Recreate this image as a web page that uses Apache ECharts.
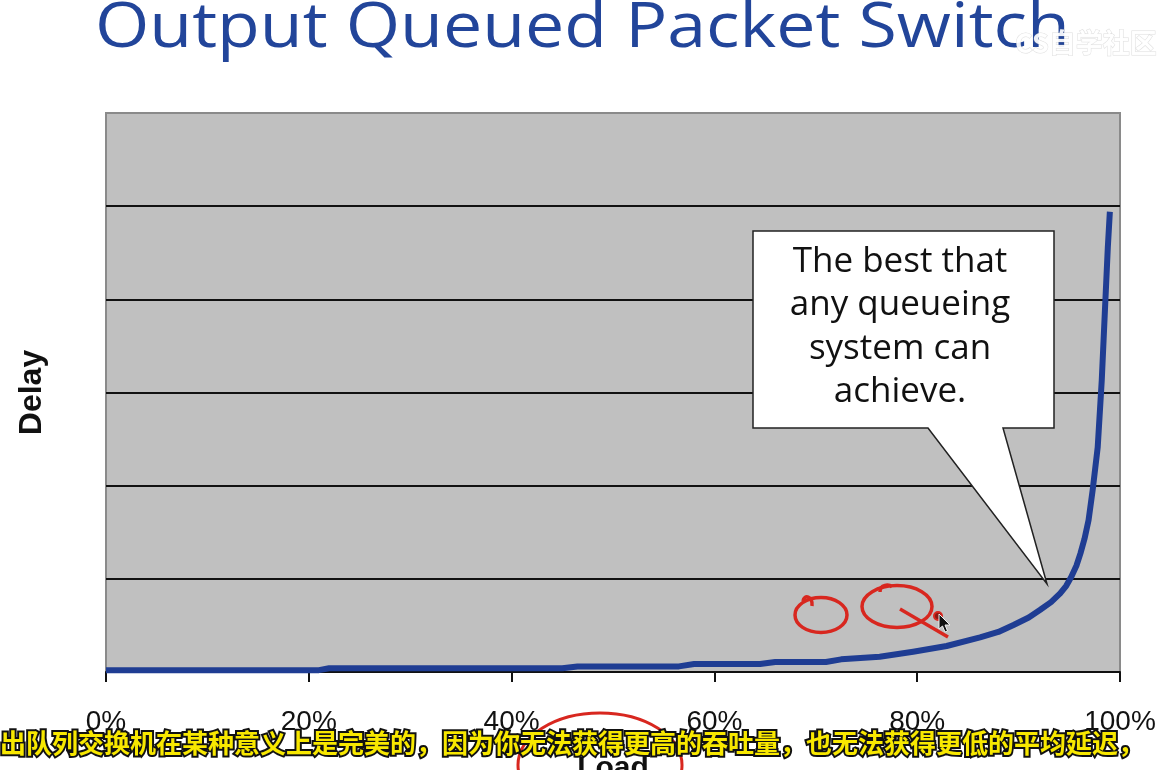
<!DOCTYPE html>
<html>
<head>
<meta charset="utf-8">
<script src="https://cdn.jsdelivr.net/npm/echarts/dist/echarts.min.js"></script>
<style>
html,body{margin:0;padding:0;background:#ffffff;}
#chart{width:1176px;height:770px;}
</style>
</head>
<body>
<div id="chart"></div>
<script>
// ---- data ----
const titleText = 'Output Queued Packet Switch';
const xAxisName = 'Load';
const yAxisName = 'Delay';
const xTickLabels = ['0%', '20%', '40%', '60%', '80%', '100%'];
// load (%) and delay (arbitrary units, 6 grid divisions)
const loads  = [0, 21, 22, 45, 46.5, 56.5, 58, 64.5, 66, 71, 72.5, 76.3, 79.6, 82.9, 86.2, 88, 89.5, 91, 92.1, 93.2, 94.1, 94.7, 95.2, 95.7, 96.1, 96.5, 96.9, 97.3, 97.8, 98.2, 98.5, 98.8, 99];
const delays = [0.02, 0.02, 0.04, 0.04, 0.06, 0.06, 0.086, 0.086, 0.107, 0.107, 0.136, 0.164, 0.218, 0.279, 0.372, 0.43, 0.505, 0.585, 0.665, 0.75, 0.844, 0.925, 1.022, 1.14, 1.273, 1.43, 1.631, 1.95, 2.41, 3.13, 3.85, 4.56, 4.94];
const calloutLines = ['The best that', 'any queueing', 'system can', 'achieve.'];
const subtitleText = '出队列交换机在某种意义上是完美的，因为你无法获得更高的吞吐量，也无法获得更低的平均延迟，';
const watermarkText = 'CS自学社区';

const seriesData = loads.map((x, i) => [x, delays[i]]);

const chart = echarts.init(document.getElementById('chart'), null, {renderer: 'canvas'});
const red = '#d8271f';

const option = {
  backgroundColor: '#ffffff',
  animation: false,
  grid: {
    left: 106, right: 56, top: 113, bottom: 98,
    outerBoundsMode: 'none', containLabel: false,
    show: true, backgroundColor: '#c0c0c0',
    borderColor: '#8a8a8a', borderWidth: 2
  },
  xAxis: {
    type: 'value', min: 0, max: 100, interval: 20,
    name: xAxisName, nameLocation: 'middle', nameGap: 82,
    nameTextStyle: {fontFamily: 'Liberation Sans', fontSize: 30, fontWeight: 'bold', color: '#111', verticalAlign: 'top'},
    axisLine: {show: true, lineStyle: {color: '#111', width: 2}},
    axisTick: {show: true, length: 10, lineStyle: {color: '#111', width: 2}},
    axisLabel: {
      margin: 36, fontFamily: 'Liberation Sans', fontSize: 28, color: '#111',
      formatter: v => xTickLabels[Math.round(v / 20)]
    },
    splitLine: {show: false}
  },
  yAxis: {
    type: 'value', min: 0, max: 6, interval: 1,
    name: yAxisName, nameLocation: 'middle', nameGap: 58, nameRotate: 90,
    nameTextStyle: {fontFamily: 'Liberation Sans', fontSize: 32, fontWeight: 'bold', color: '#111'},
    axisLine: {show: false}, axisTick: {show: false}, axisLabel: {show: false},
    splitLine: {show: true, showMinLine: false, showMaxLine: false, lineStyle: {color: '#111', width: 2}}
  },
  series: [{
    type: 'line', data: seriesData, showSymbol: false,
    smooth: false,
    lineStyle: {color: '#1f3d93', width: 6, cap: 'butt', join: 'round'},
    z: 3
  }],
  graphic: [
    // title
    {type: 'text', x: 95, y: 29, z: 10, scaleX: 1.127,
     style: {text: titleText, font: '62px "Open Sans"', fill: '#22459a', verticalAlign: 'middle'}},
    // watermark
    {type: 'text', x: 1015, y: 43, z: 11,
     style: {text: watermarkText, font: 'bold 27px "Noto Sans CJK SC"', fill: 'rgba(255,255,255,0.92)', stroke: 'rgba(160,160,160,0.35)', lineWidth: 1, verticalAlign: 'middle'}},
    // callout
    {type: 'polygon', z: 10,
     shape: {points: [[753, 231], [1054, 231], [1054, 428], [1003, 428], [1047, 584], [928, 428], [753, 428]]},
     style: {fill: '#ffffff', stroke: '#222', lineWidth: 1.5}},
    {type: 'text', x: 900, y: 327, z: 11,
     style: {text: calloutLines.join('\n'), font: '35px "Open Sans"', fill: '#111', align: 'center', verticalAlign: 'middle', lineHeight: 43.5}},
    // handwriting "OQ"
    {type: 'ellipse', z: 12, shape: {cx: 821, cy: 615, rx: 26, ry: 17.5},
     style: {fill: null, stroke: red, lineWidth: 3.5}},
    {type: 'bezierCurve', z: 12, shape: {x1: 803, y1: 601, cpx1: 804, cpy1: 594, cpx2: 813, cpy2: 596, x2: 812, y2: 606},
     style: {fill: null, stroke: red, lineWidth: 3.5}},
    {type: 'ellipse', z: 12, shape: {cx: 897, cy: 606.5, rx: 35, ry: 21},
     style: {fill: null, stroke: red, lineWidth: 3.5}},
    {type: 'bezierCurve', z: 12, shape: {x1: 880, y1: 592, cpx1: 880, cpy1: 584, cpx2: 889, cpy2: 584, x2: 892, y2: 587},
     style: {fill: null, stroke: red, lineWidth: 3.5}},
    {type: 'line', z: 12, shape: {x1: 900, y1: 609, x2: 948, y2: 637},
     style: {stroke: red, lineWidth: 3.5}},
    {type: 'circle', z: 12, shape: {cx: 938, cy: 616, r: 4},
     style: {fill: '#8a1a14', stroke: red, lineWidth: 2}},
    // mouse pointer
    {type: 'polygon', z: 13,
     shape: {points: [[939, 614], [939, 629], [942.5, 626], [945, 632], [947.5, 631], [945, 625], [950, 625]]},
     style: {fill: '#111', stroke: '#eee', lineWidth: 1}},
    // circle around "Load"
    {type: 'ellipse', z: 12, shape: {cx: 600, cy: 765, rx: 82, ry: 52},
     style: {fill: null, stroke: red, lineWidth: 3}},
    // subtitle
    {type: 'text', x: 0, y: 743, z: 20,
     style: {text: subtitleText, font: 'bold 26px "Noto Sans CJK SC"', fill: '#f8e800', stroke: '#111', lineWidth: 4, verticalAlign: 'middle'}}
  ]
};
chart.setOption(option);
</script>
</body>
</html>
